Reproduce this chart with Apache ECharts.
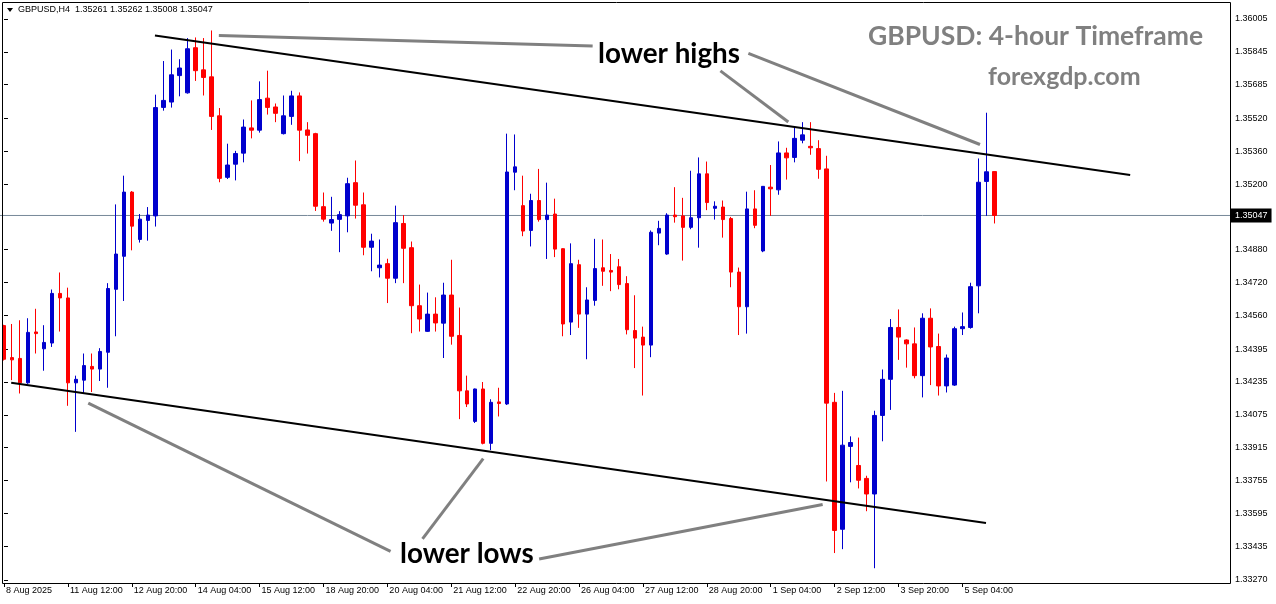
<!DOCTYPE html>
<html><head><meta charset="utf-8">
<script src="https://cdn.jsdelivr.net/npm/echarts@6/dist/echarts.min.js"></script>
<style>html,body{margin:0;padding:0;background:#fff}#c{width:1276px;height:604px}</style>
</head><body><div id="c"></div>
<script>
// ---- data (GBPUSD H4) ----
const opens=[1.34510,1.34354,1.34350,1.34231,1.34479,1.34397,1.34425,1.34667,1.34645,1.34231,
1.34244,1.34311,1.34298,1.34380,1.34687,1.34848,1.35161,1.34930,1.35023,1.35045,
1.35574,1.35600,1.35729,1.35645,1.35865,1.35757,1.35723,1.35533,1.35233,1.35297,
1.35351,1.35474,1.35463,1.35619,1.35576,1.35446,1.35530,1.35630,1.35464,1.35446,
1.35090,1.35010,1.35028,1.35045,1.35207,1.35099,1.34892,1.34792,1.34812,1.34741,
1.35008,1.34890,1.34607,1.34482,1.34566,1.34522,1.34659,1.34462,1.34192,1.34043,
1.34201,1.33936,1.34138,1.34128,1.35258,1.35095,1.34974,1.35120,1.35027,1.35054,
1.34885,1.34527,1.34807,1.34566,1.34633,1.34792,1.34779,1.34797,1.34715,1.34486,
1.34454,1.34415,1.34961,1.34859,1.35049,1.35045,1.34989,1.35036,1.35250,1.35082,
1.35088,1.35032,1.34771,1.34602,1.35079,1.34874,1.35185,1.35172,1.35352,1.35330,
1.35414,1.35384,1.35373,1.35274,1.34136,1.33517,1.33921,1.33828,1.33765,1.33689,
1.34072,1.34248,1.34501,1.34440,1.34421,1.34266,1.34546,1.34408,1.34216,1.34220,
1.34495,1.34501,1.34704,1.35213,1.35261];
const closes=[1.34346,1.34343,1.34231,1.34477,1.34471,1.34428,1.34667,1.34645,1.34231,1.34248,
1.34315,1.34298,1.34384,1.34691,1.34859,1.35161,1.34995,1.35029,1.35049,1.35573,
1.35608,1.35733,1.35766,1.35860,1.35753,1.35720,1.35530,1.35228,1.35293,1.35349,
1.35478,1.35463,1.35612,1.35574,1.35545,1.35533,1.35630,1.35463,1.35438,1.35092,
1.35029,1.35027,1.35051,1.35202,1.35097,1.34892,1.34922,1.34805,1.34741,1.35012,
1.34887,1.34607,1.34542,1.34566,1.34523,1.34659,1.34458,1.34192,1.34128,1.34201,
1.33936,1.34136,1.34130,1.35259,1.35284,1.34971,1.35120,1.35027,1.35049,1.34883,
1.34518,1.34812,1.34566,1.34635,1.34788,1.34775,1.34771,1.34710,1.34490,1.34449,
1.34415,1.34965,1.34984,1.35049,1.35041,1.34989,1.35036,1.35250,1.35110,1.35092,
1.35027,1.34771,1.34602,1.35079,1.34999,1.35189,1.35177,1.35352,1.35328,1.35423,
1.35440,1.35377,1.35272,1.34132,1.33511,1.33927,1.33940,1.33756,1.33689,1.34072,
1.34248,1.34501,1.34454,1.34421,1.34266,1.34546,1.34406,1.34216,1.34352,1.34495,
1.34505,1.34700,1.35209,1.35260,1.35047];
const lows=[1.34340,1.34244,1.34179,1.34226,1.34374,1.34290,1.34406,1.34481,1.34119,1.33992,
1.34182,1.34186,1.34240,1.34207,1.34458,1.34630,1.34877,1.34915,1.34924,1.34993,
1.35558,1.35573,1.35628,1.35641,1.35703,1.35632,1.35464,1.35209,1.35225,1.35218,
1.35306,1.35423,1.35451,1.35539,1.35502,1.35442,1.35489,1.35312,1.35349,1.35069,
1.35017,1.34972,1.34868,1.34965,1.35032,1.34853,1.34775,1.34745,1.34620,1.34717,
1.34717,1.34473,1.34481,1.34479,1.34481,1.34352,1.34417,1.34054,1.34113,1.34035,
1.33931,1.33903,1.34067,1.34123,1.35170,1.34946,1.34896,1.35017,1.34835,1.34844,
1.34458,1.34464,1.34499,1.34346,1.34607,1.34704,1.34678,1.34687,1.34467,1.34303,
1.34169,1.34356,1.34902,1.34855,1.35012,1.34827,1.34980,1.34890,1.35073,1.35027,
1.34939,1.34697,1.34464,1.34471,1.34985,1.34868,1.35045,1.35148,1.35222,1.35306,
1.35399,1.35343,1.35226,1.33750,1.33401,1.33420,1.33746,1.33716,1.33605,1.33327,
1.33946,1.34099,1.34343,1.34305,1.34253,1.34160,1.34220,1.34169,1.34184,1.34216,
1.34464,1.34495,1.34570,1.35045,1.35008];
const highs=[1.34514,1.34518,1.34536,1.34546,1.34592,1.34512,1.34686,1.34769,1.34695,1.34266,
1.34374,1.34374,1.34400,1.34717,1.35101,1.35241,1.35166,1.35054,1.35088,1.35636,
1.35800,1.35856,1.35809,1.35912,1.35915,1.35912,1.35949,1.35571,1.35397,1.35362,
1.35515,1.35608,1.35701,1.35753,1.35593,1.35632,1.35655,1.35647,1.35502,1.35450,
1.35159,1.35138,1.35068,1.35231,1.35315,1.35159,1.34958,1.34930,1.34836,1.35095,
1.35049,1.34920,1.34710,1.34671,1.34648,1.34719,1.34831,1.34598,1.34266,1.34203,
1.34235,1.34151,1.34207,1.35446,1.35442,1.35241,1.35153,1.35274,1.35207,1.35129,
1.34887,1.34911,1.34831,1.34697,1.34933,1.34930,1.34859,1.34835,1.34751,1.34658,
1.34505,1.34974,1.35021,1.35058,1.35185,1.35133,1.35265,1.35330,1.35310,1.35116,
1.35120,1.35040,1.34793,1.35163,1.35170,1.35190,1.35293,1.35408,1.35377,1.35477,
1.35502,1.35502,1.35414,1.35338,1.34182,1.34192,1.33970,1.33964,1.33778,1.34095,
1.34296,1.34542,1.34589,1.34443,1.34501,1.34570,1.34594,1.34471,1.34369,1.34505,
1.34574,1.34719,1.35325,1.35548,1.35262];

const xTickLabels=['8 Aug 2025','11 Aug 12:00','12 Aug 20:00','14 Aug 04:00','15 Aug 12:00','18 Aug 20:00',
'20 Aug 04:00','21 Aug 12:00','22 Aug 20:00','26 Aug 04:00','27 Aug 12:00','28 Aug 20:00',
'1 Sep 04:00','2 Sep 12:00','3 Sep 20:00','5 Sep 04:00'];
const yTickValues=[1.36005,1.35845,1.35685,1.35520,1.35360,1.35200,1.34880,1.34720,1.34560,
1.34395,1.34235,1.34075,1.33915,1.33755,1.33595,1.33435,1.33270];
const bidPrice=1.35047;

// trend lines: [candle index, price]
const upperChannel=[[18.9,1.35925],[141.0,1.35244]];
const lowerChannel=[[0.9,1.34231],[122.95,1.33548]];
const highPointers=[[[26.9,1.35925],[73.7,1.35873]],[[89.7,1.35752],[98.2,1.35503]],[[93.2,1.35837],[122.2,1.35393]]];
const lowPointers=[[[10.55,1.34132],[48.4,1.33409]],[[52.4,1.33470],[60.0,1.33861]],[[67.0,1.33372],[102.5,1.33638]]];

const SLOTS=154; // includes empty chart shift on the right
const STEP=8;

// ---- chart ----
const categories=Array.from({length:SLOTS},(_,i)=>String(i));
const candles=opens.map((o,i)=>[o,closes[i],lows[i],highs[i]]);
const N=opens.length;
const FONT='"Liberation Sans", Arial, sans-serif';
const BLUE='#0000cd', RED='#ff0000';

const chart=echarts.init(document.getElementById('c'),null,{renderer:'canvas'});
const lineSeries=[];
function addLine(pts,color,width){
  lineSeries.push({type:'line',xAxisIndex:1,yAxisIndex:0,data:pts,symbol:'none',silent:true,z:5,
    lineStyle:{color:color,width:width},animation:false});
}
addLine(upperChannel,'#000',2);
addLine(lowerChannel,'#000',2);
highPointers.concat(lowPointers).forEach(p=>addLine(p,'#808080',3));

const bidSeries={type:'line',xAxisIndex:1,yAxisIndex:0,silent:true,symbol:'none',z:2,animation:false,
  data:[[-0.5,bidPrice],[SLOTS-0.5,bidPrice]],
  lineStyle:{color:'#778899',width:1},
  endLabel:{show:true,distance:1,formatter:()=>bidPrice.toFixed(5),backgroundColor:'#000',color:'#fff',
    fontSize:9,fontFamily:'"Liberation Sans", Arial, sans-serif',padding:[3,4,2,4]}};

const last=N-1;
const header='GBPUSD,H4  '+opens[last].toFixed(5)+' '+highs[last].toFixed(5)+' '+lows[last].toFixed(5)+' '+closes[last].toFixed(5);

chart.setOption({
  animation:false,
  backgroundColor:'#fff',
  grid:{left:0,top:3,width:1230,bottom:21,containLabel:false},
  xAxis:[{
    type:'category',data:categories,boundaryGap:true,
    axisLine:{show:false},
    axisTick:{show:true,alignWithLabel:true,length:4,lineStyle:{color:'#000'},
      interval:(i)=>i%STEP===0&&i<N},
    axisLabel:{show:true,interval:(i)=>i%STEP===0&&i<N,align:'left',margin:3,padding:[0,0,0,2],
      fontSize:9,fontFamily:FONT,color:'#000',
      formatter:(v,i)=>xTickLabels[Math.round(i/STEP)]||''},
    splitLine:{show:false}
  },{
    type:'value',min:-0.5,max:SLOTS-0.5,show:false
  }],
  yAxis:[{
    type:'value',position:'right',min:1.33255,max:1.36083,scale:true,
    axisLine:{show:false},splitLine:{show:false},
    axisTick:{show:true,length:4,lineStyle:{color:'#000'},customValues:yTickValues},
    axisLabel:{show:true,margin:5,fontSize:9,fontFamily:FONT,color:'#000',
      customValues:yTickValues,formatter:v=>v.toFixed(5)}
  }],
  series:[{
    type:'candlestick',xAxisIndex:0,yAxisIndex:0,data:candles,barWidth:4,z:3,
    itemStyle:{color:BLUE,color0:RED,borderColor:BLUE,borderColor0:RED,borderWidth:1}
  },bidSeries].concat(lineSeries),
  graphic:[
    {type:'rect',z:100,silent:true,shape:{x:2.5,y:2.5,width:1228,height:581},
      style:{fill:'none',stroke:'#000',lineWidth:1}},
    {type:'polygon',z:100,shape:{points:[[7,8],[13,8],[10,12]]},style:{fill:'#000'}},
    {type:'text',z:100,x:18,y:10,style:{text:header,font:'9px '+FONT,fill:'#000',textVerticalAlign:'middle'}},
    {type:'text',z:100,x:868,y:36,style:{text:'GBPUSD: 4-hour Timeframe',font:'bold 26.5px Lato, sans-serif',fill:'#808080',textVerticalAlign:'middle'}},
    {type:'text',z:100,x:988,y:77,style:{text:'forexgdp.com',font:'bold 25px Lato, sans-serif',fill:'#808080',textVerticalAlign:'middle'}},
    {type:'text',z:100,x:598,y:54,style:{text:'lower highs',font:'bold 27.8px Lato, sans-serif',fill:'#000',textVerticalAlign:'middle'}},
    {type:'text',z:100,x:400,y:554,style:{text:'lower lows',font:'bold 27.8px Lato, sans-serif',fill:'#000',textVerticalAlign:'middle'}}
  ]
});
</script></body></html>
